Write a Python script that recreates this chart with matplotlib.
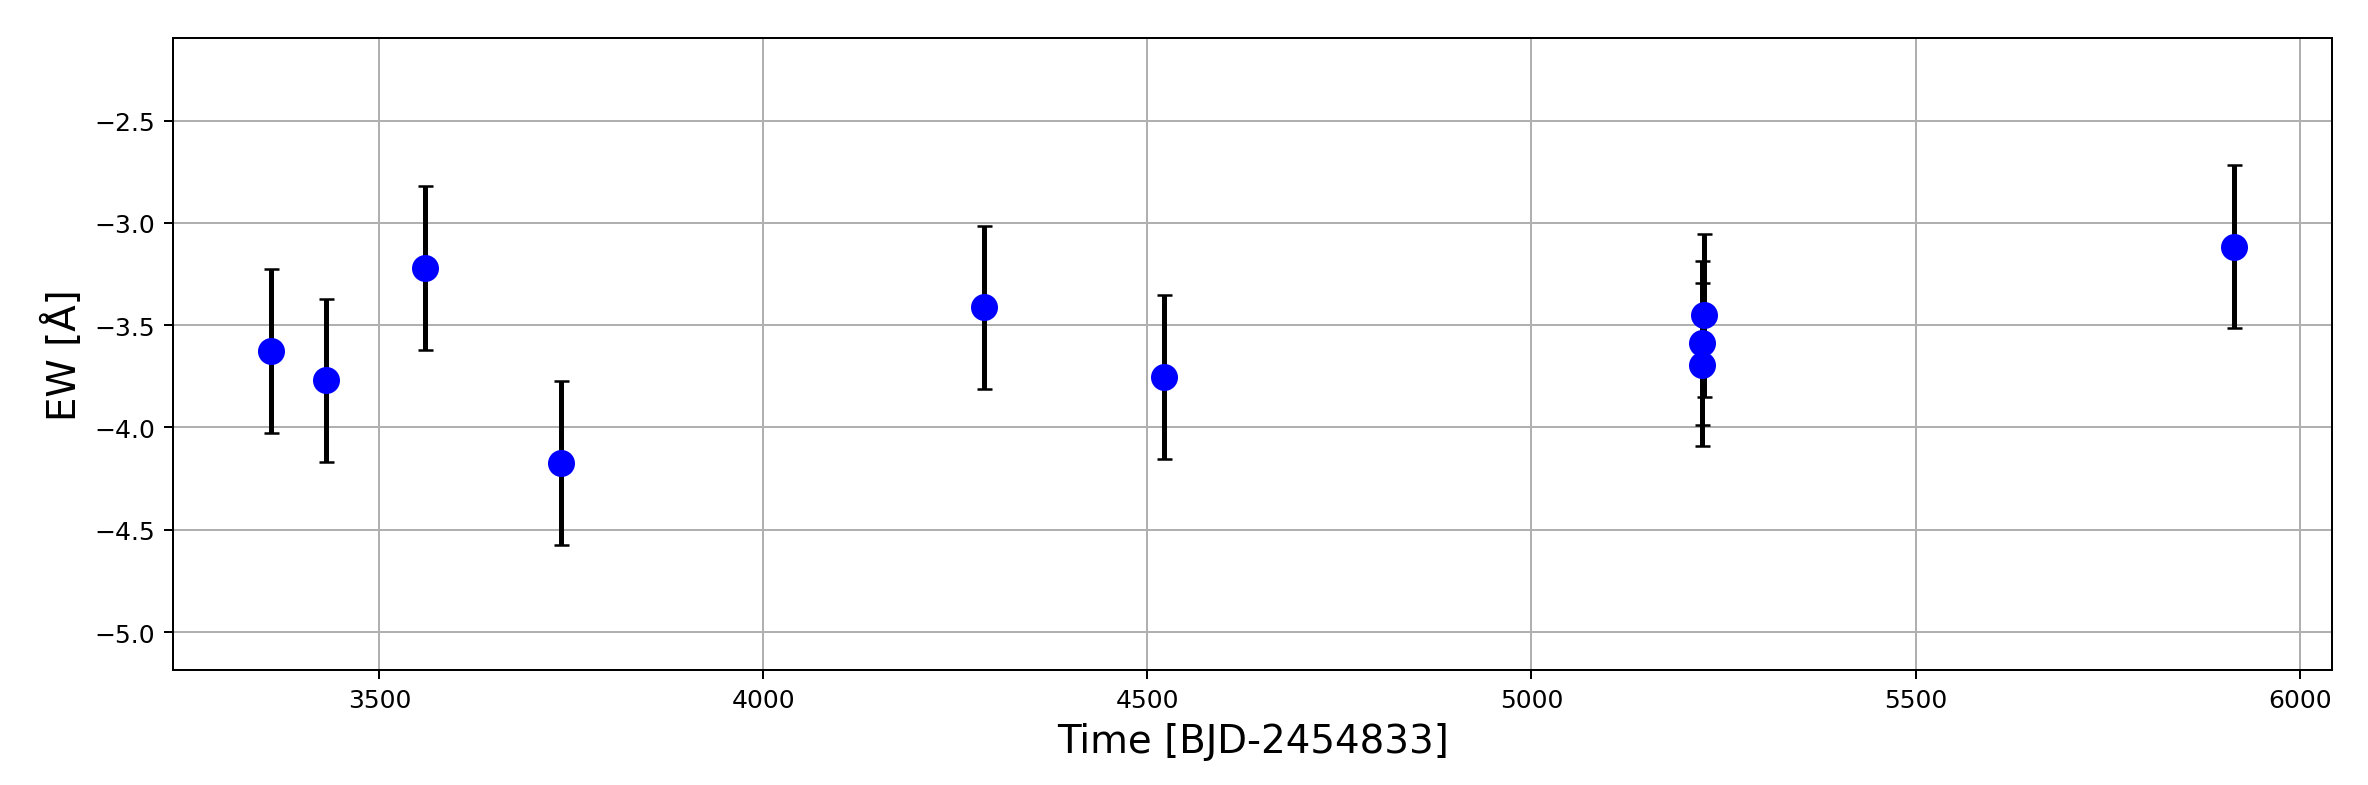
import numpy as np
import matplotlib
matplotlib.use("Agg")
import matplotlib.pyplot as plt

# EW measurements vs time
time = [3359, 3431, 3559, 3736, 4287, 4522, 5224, 5222, 5222, 5915]
ew = [-3.627, -3.770, -3.221, -4.173, -3.413, -3.753, -3.452, -3.588, -3.692, -3.115]
ew_err = [0.40, 0.40, 0.40, 0.40, 0.40, 0.40, 0.40, 0.40, 0.40, 0.40]

fig, ax = plt.subplots(figsize=(2368 / 180, 786 / 180), dpi=180)
fig.subplots_adjust(left=0.073, right=0.985, bottom=0.146, top=0.951)

ax.errorbar(time, ew, yerr=ew_err, fmt="o", color="blue", ms=9.8,
            ecolor="black", elinewidth=2, capsize=3, zorder=3)
ax.set_ylim(-5.187, -2.093)
ax.set_xlabel("Time [BJD-2454833]", fontsize=15.5)
ax.set_ylabel("EW [Å]", fontsize=15.5)
ax.grid(True)

plt.savefig("out.png", dpi=180)
